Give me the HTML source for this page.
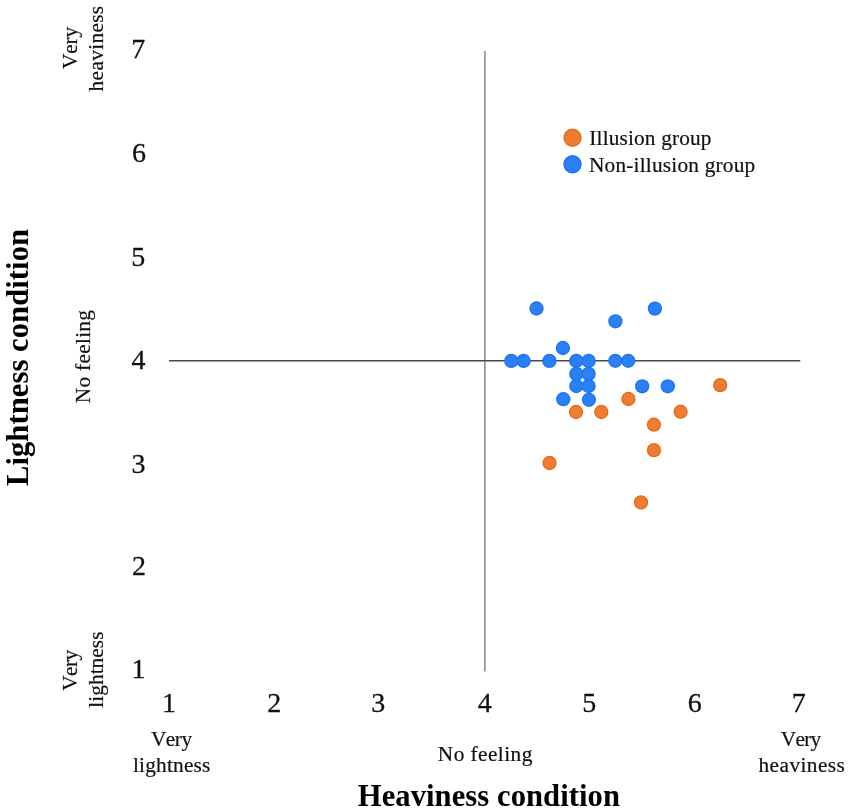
<!DOCTYPE html>
<html><head><meta charset="utf-8"><style>
html,body{margin:0;padding:0;background:#fff;}
body{width:851px;height:812px;overflow:hidden;}
svg{display:block;will-change:transform;}
text{font-family:"Liberation Serif",serif;fill:#111;font-kerning:none;}
.d{font-size:28px;stroke:#111;stroke-width:0.3px;}
.s{font-size:21.3px;stroke:#111;stroke-width:0.2px;}
.t{font-size:30.6px;font-weight:bold;fill:#000;}
</style></head><body>
<svg width="851" height="812" viewBox="0 0 851 812">
<rect width="851" height="812" fill="#fff"/>
<line x1="484.9" y1="51" x2="484.9" y2="671.6" stroke="#949494" stroke-width="1.7"/>
<line x1="169" y1="360.7" x2="800.3" y2="360.7" stroke="#4b4b4b" stroke-width="1.5"/>
<text x="138.24" y="58.08" class="d" text-anchor="middle">7</text>
<text x="138.89" y="161.80" class="d" text-anchor="middle">6</text>
<text x="138.24" y="265.83" class="d" text-anchor="middle">5</text>
<text x="138.57" y="368.61" class="d" text-anchor="middle">4</text>
<text x="138.61" y="472.69" class="d" text-anchor="middle">3</text>
<text x="139.08" y="575.11" class="d" text-anchor="middle">2</text>
<text x="138.60" y="678.36" class="d" text-anchor="middle">1</text>
<text x="168.96" y="712.22" class="d" text-anchor="middle">1</text>
<text x="274.32" y="712.22" class="d" text-anchor="middle">2</text>
<text x="378.24" y="712.22" class="d" text-anchor="middle">3</text>
<text x="484.68" y="712.22" class="d" text-anchor="middle">4</text>
<text x="589.14" y="712.22" class="d" text-anchor="middle">5</text>
<text x="694.82" y="712.22" class="d" text-anchor="middle">6</text>
<text x="798.78" y="712.22" class="d" text-anchor="middle">7</text>
<text class="s" text-anchor="middle" x="171.27" y="746.00" letter-spacing="-0.480">Very</text>
<text class="s" text-anchor="middle" x="171.75" y="771.70" letter-spacing="0.200">lightness</text>
<text class="s" text-anchor="middle" x="485.31" y="760.60" letter-spacing="0.444">No feeling</text>
<text class="s" text-anchor="middle" x="800.62" y="746.00" letter-spacing="-0.747">Very</text>
<text class="s" text-anchor="middle" x="801.92" y="771.70" letter-spacing="0.440">heaviness</text>
<text class="s" text-anchor="middle" x="650.48" y="145.30" letter-spacing="0.160">Illusion group</text>
<text class="s" text-anchor="middle" x="672.21" y="171.70" letter-spacing="0.207">Non-illusion group</text>
<text class="t" text-anchor="middle" x="488.92" y="806.00" letter-spacing="0.071">Heaviness condition</text>
<text class="s" text-anchor="middle" x="0" y="0" letter-spacing="-0.160" transform="translate(77.00,47.98) rotate(-90)">Very</text>
<text class="s" text-anchor="middle" x="0" y="0" letter-spacing="0.340" transform="translate(102.80,48.48) rotate(-90)">heaviness</text>
<text class="s" text-anchor="middle" x="0" y="0" letter-spacing="0.302" transform="translate(89.60,356.48) rotate(-90)">No feeling</text>
<text class="s" text-anchor="middle" x="0" y="0" letter-spacing="-0.533" transform="translate(77.00,670.59) rotate(-90)">Very</text>
<text class="s" text-anchor="middle" x="0" y="0" letter-spacing="0.060" transform="translate(102.80,669.60) rotate(-90)">lightness</text>
<text class="t" text-anchor="middle" x="0" y="0" letter-spacing="0.071" transform="translate(27.60,357.46) rotate(-90)">Lightness condition</text>
<circle cx="572.5" cy="137.7" r="8.5" fill="#ec7d33" stroke="#ea6a16" stroke-width="1.4"/>
<circle cx="572.5" cy="164.3" r="8.5" fill="#2c80f6" stroke="#1a74f3" stroke-width="1.4"/>
<g fill="#ea6a16"><circle cx="720.2" cy="385.1" r="7.15"/><circle cx="628.4" cy="399" r="7.15"/><circle cx="576" cy="412" r="7.15"/><circle cx="601.3" cy="412" r="7.15"/><circle cx="680.6" cy="411.7" r="7.15"/><circle cx="653.9" cy="424.7" r="7.15"/><circle cx="653.9" cy="450.1" r="7.15"/><circle cx="549.5" cy="463" r="7.15"/><circle cx="641" cy="502.4" r="7.15"/></g>
<g fill="#ec7d33"><circle cx="720.2" cy="385.1" r="5.85"/><circle cx="628.4" cy="399" r="5.85"/><circle cx="576" cy="412" r="5.85"/><circle cx="601.3" cy="412" r="5.85"/><circle cx="680.6" cy="411.7" r="5.85"/><circle cx="653.9" cy="424.7" r="5.85"/><circle cx="653.9" cy="450.1" r="5.85"/><circle cx="549.5" cy="463" r="5.85"/><circle cx="641" cy="502.4" r="5.85"/></g>
<g fill="#1a74f3"><circle cx="536.5" cy="308.5" r="7.15"/><circle cx="654.9" cy="308.6" r="7.15"/><circle cx="615.4" cy="321.3" r="7.15"/><circle cx="562.9" cy="348" r="7.15"/><circle cx="511.3" cy="360.9" r="7.15"/><circle cx="523.6" cy="360.9" r="7.15"/><circle cx="549.4" cy="360.9" r="7.15"/><circle cx="576.3" cy="360.9" r="7.15"/><circle cx="588.6" cy="360.9" r="7.15"/><circle cx="615.3" cy="360.8" r="7.15"/><circle cx="628.2" cy="360.8" r="7.15"/><circle cx="576.3" cy="373.9" r="7.15"/><circle cx="588.6" cy="373.9" r="7.15"/><circle cx="576.3" cy="386" r="7.15"/><circle cx="588.6" cy="386" r="7.15"/><circle cx="642.2" cy="386.3" r="7.15"/><circle cx="667.8" cy="386.3" r="7.15"/><circle cx="563.3" cy="399.2" r="7.15"/><circle cx="588.9" cy="399.8" r="7.15"/></g>
<g fill="#2c80f6"><circle cx="536.5" cy="308.5" r="5.85"/><circle cx="654.9" cy="308.6" r="5.85"/><circle cx="615.4" cy="321.3" r="5.85"/><circle cx="562.9" cy="348" r="5.85"/><circle cx="511.3" cy="360.9" r="5.85"/><circle cx="523.6" cy="360.9" r="5.85"/><circle cx="549.4" cy="360.9" r="5.85"/><circle cx="576.3" cy="360.9" r="5.85"/><circle cx="588.6" cy="360.9" r="5.85"/><circle cx="615.3" cy="360.8" r="5.85"/><circle cx="628.2" cy="360.8" r="5.85"/><circle cx="576.3" cy="373.9" r="5.85"/><circle cx="588.6" cy="373.9" r="5.85"/><circle cx="576.3" cy="386" r="5.85"/><circle cx="588.6" cy="386" r="5.85"/><circle cx="642.2" cy="386.3" r="5.85"/><circle cx="667.8" cy="386.3" r="5.85"/><circle cx="563.3" cy="399.2" r="5.85"/><circle cx="588.9" cy="399.8" r="5.85"/></g>
</svg>
</body></html>
